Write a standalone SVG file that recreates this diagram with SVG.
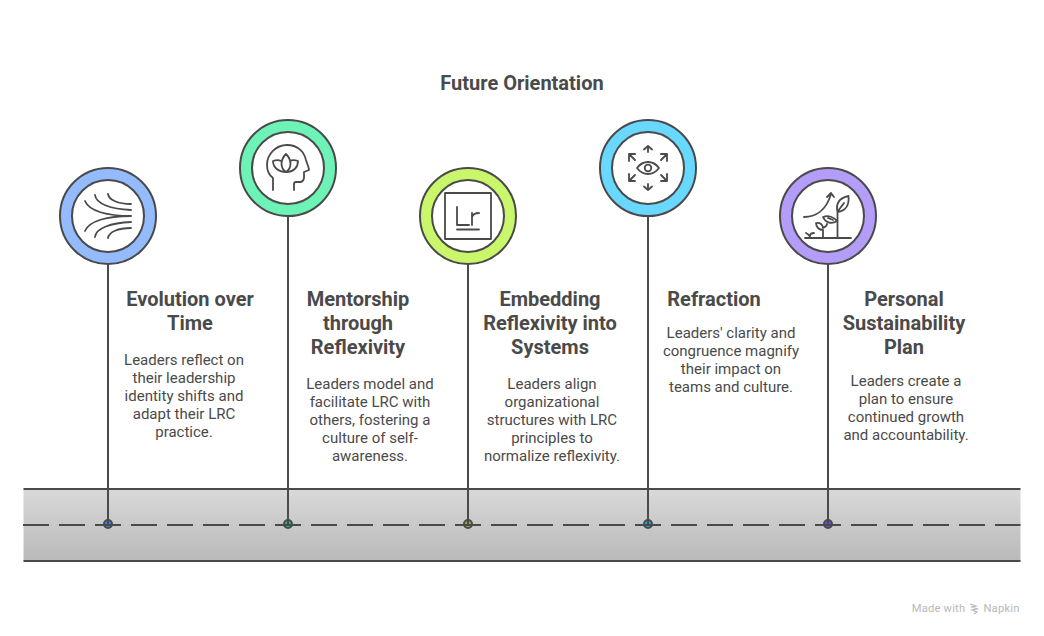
<svg xmlns="http://www.w3.org/2000/svg" width="1044" height="636" viewBox="0 0 1044 636">
<defs>
<linearGradient id="road" x1="0" y1="0" x2="0" y2="1"><stop offset="0" stop-color="#d9d9d9"/><stop offset="1" stop-color="#b9b9b9"/></linearGradient>
</defs>
<style>
text{font-family:Roboto,"Liberation Sans",sans-serif;fill:#4a4a4a;text-anchor:middle}
.t{font-size:20px;font-weight:700}
.b{font-size:15px;font-weight:400}
.ln{stroke:#4a4a4a;stroke-width:2;fill:none}
.ic{stroke:#4a4a4a;stroke-width:1.8;fill:none;stroke-linecap:round;stroke-linejoin:round}
.in{fill:#fff;stroke:#4a4a4a;stroke-width:2}
.out{stroke:#4a4a4a;stroke-width:2}
.dot{stroke:#4a4a4a;stroke-width:2}
.wm{font-size:11.2px;fill:#b8b8b8;letter-spacing:.2px}
</style>
<rect width="1044" height="636" fill="#fff"/>
<g id="road-band">
<rect x="23.500" y="489" width="997" height="72" fill="url(#road)"/>
<path class="ln" d="M23.500 489H1020.500M23.500 561H1020.500"/>
</g>
<text id="title" class="t" x="522" y="90">Future Orientation</text>
<g id="node-1">
<circle class="out" cx="108" cy="216" r="48" fill="#93bbfd"/><circle class="in" cx="108" cy="216" r="36"/>
<path class="ic" d="M108 194c1 6 10 10 23 10M95 195c1 9 16 14 36 15M85 201c4 10 22 15 46 15M131 216c-24 0-42 5-46 15M95 237c1-9 16-14 36-15M108 238c1-6 10-10 23-10"/>
<circle class="dot" cx="108" cy="524" r="4" fill="#3b82f6"/>
<text class="t" x="190" y="306">Evolution over</text><text class="t" x="190" y="330">Time</text>
<text class="b" x="184" y="365">Leaders reflect on</text><text class="b" x="184" y="383">their leadership</text><text class="b" x="184" y="401">identity shifts and</text><text class="b" x="184" y="419">adapt their LRC</text><text class="b" x="184" y="437">practice.</text>
</g>
<g id="node-2">
<circle class="out" cx="288" cy="168" r="48" fill="#6ef3b7"/><circle class="in" cx="288" cy="168" r="36"/>
<path class="ic" d="M273 190v-12c-4-3-6-8-6-13 0-11 9-20 20-20 10 0 17 6 19 15 1 4 3 7 3 10l-5 2v6c0 2-2 4-4 4h-4c-1 0-2 1-2 2v6"/>
<path class="ic" d="M286 172c-6-4-6-12 0-18 6 6 6 14 0 18zM286 172c-8 0-13-5-13-11 3-1 6-1 8 0M286 172c8 0 12-5 12-11-3-1-6-1-8 0"/>
<circle class="dot" cx="288" cy="524" r="4" fill="#22c07a"/>
<text class="t" x="358" y="306">Mentorship</text><text class="t" x="358" y="330">through</text><text class="t" x="358" y="354">Reflexivity</text>
<text class="b" x="370" y="389">Leaders model and</text><text class="b" x="370" y="407">facilitate LRC with</text><text class="b" x="370" y="425">others, fostering a</text><text class="b" x="370" y="443">culture of self-</text><text class="b" x="370" y="461">awareness.</text>
</g>
<g id="node-3">
<circle class="out" cx="468" cy="216" r="48" fill="#c9f66b"/><circle class="in" cx="468" cy="216" r="36"/>
<rect class="ic" x="445" y="193" width="46" height="46"/>
<path class="ic" d="M457 207v18h12M472 213v12M472 217c1-3 3-4 7-4M457 229.500h22"/>
<circle class="dot" cx="468" cy="524" r="4" fill="#94b536"/>
<text class="t" x="550" y="306">Embedding</text><text class="t" x="550" y="330">Reflexivity into</text><text class="t" x="550" y="354">Systems</text>
<text class="b" x="552" y="389">Leaders align</text><text class="b" x="552" y="407">organizational</text><text class="b" x="552" y="425">structures with LRC</text><text class="b" x="552" y="443">principles to</text><text class="b" x="552" y="461">normalize reflexivity.</text>
</g>
<g id="node-4">
<circle class="out" cx="648" cy="168" r="48" fill="#68d8fe"/><circle class="in" cx="648" cy="168" r="36"/>
<path class="ic" d="M637 168c6-8 16-8 22 0-6 8-16 8-22 0z"/>
<circle class="ic" cx="648" cy="168" r="3.300"/>
<path class="ic" d="M648 146v6M644 149.500l4-3.500 4 3.500M648 190v-6M644 186.500l4 3.500 4-3.500M629 161v-7h6M629 154l6 6M667 161v-7h-6M667 154l-6 6M629 174v7h6M629 181l6-6M667 174v7h-6M667 181l-6-6"/>
<circle class="dot" cx="648" cy="524" r="4" fill="#1ea7d4"/>
<text class="t" x="714" y="306">Refraction</text>
<text class="b" x="731" y="338">Leaders' clarity and</text><text class="b" x="731" y="356">congruence magnify</text><text class="b" x="731" y="374">their impact on</text><text class="b" x="731" y="392">teams and culture.</text>
</g>
<g id="node-5">
<circle class="out" cx="828" cy="216" r="48" fill="#b49cf9"/><circle class="in" cx="828" cy="216" r="36"/>
<path class="ic" d="M805 238h46M837.500 238v-26M837.500 212c-2-9 2-14 11-16 1 9-3 15-11 16zM838 211l6-8M837 221c-3-4-9-6-14-4 2 5 8 8 14 4zM828 218l5 2M804 217c11 0 22-6 27-23M827 197l4-4 3 4M823 238v-8M823 230c-4 0-7-3-7-7 4-1 7 2 7 5 2-1 4-2 4-4M806 233c2 1 4 2 4 5M810 236c0-2 2-3 4-3"/>
<circle class="dot" cx="828" cy="524" r="4" fill="#6b4fe6"/>
<text class="t" x="904" y="306">Personal</text><text class="t" x="904" y="330">Sustainability</text><text class="t" x="904" y="354">Plan</text>
<text class="b" x="906" y="386">Leaders create a</text><text class="b" x="906" y="404">plan to ensure</text><text class="b" x="906" y="422">continued growth</text><text class="b" x="906" y="440">and accountability.</text>
</g>
<g id="connectors">
<path class="ln" d="M23 525H1020.500" stroke-dasharray="26 10"/>
<path class="ln" d="M108 264V525M288 216V525M468 264V525M648 216V525M828 264V525"/>
</g>
<g id="watermark">
<text class="wm" x="938.500" y="612">Made with</text>
<path d="M970 604l6 2-5 1 7 2-6 1 5 2-3 2" stroke="#b8b8b8" stroke-width="1.200" fill="none"/>
<text class="wm" x="1001.500" y="612">Napkin</text>
</g>
</svg>
